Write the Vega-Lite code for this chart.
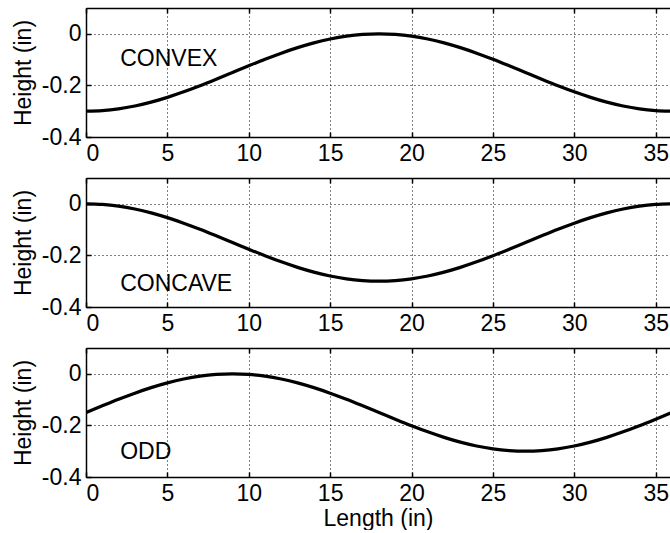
{
"$schema": "https://vega.github.io/schema/vega-lite/v6.json",
"padding": {"left": 12, "top": 7, "right": 0, "bottom": 0},
"bounds": "flush",
"spacing": 41,
"config": {"view": {"stroke": null}, "font": "Liberation Sans",
  "axis": {"domainColor": "black", "domainWidth": 1.5, "tickColor": "black", "tickWidth": 1.5, "gridColor": "black", "gridOpacity": 1, "gridDash": [1, 3], "gridWidth": 1, "labelFont": "Liberation Sans", "labelFontSize": 23, "labelColor": "black", "titleFont": "Liberation Sans", "titleFontSize": 23, "titleFontWeight": "normal", "titleColor": "black"}},
"datasets": {
 "curves": [
  {"x":0,"convex":-0.3,"concave":0,"odd":-0.15},
  {"x":1,"convex":-0.2977,"concave":-0.0023,"odd":-0.124},
  {"x":2,"convex":-0.291,"concave":-0.009,"odd":-0.0987},
  {"x":3,"convex":-0.2799,"concave":-0.0201,"odd":-0.075},
  {"x":4,"convex":-0.2649,"concave":-0.0351,"odd":-0.0536},
  {"x":5,"convex":-0.2464,"concave":-0.0536,"odd":-0.0351},
  {"x":6,"convex":-0.225,"concave":-0.075,"odd":-0.0201},
  {"x":7,"convex":-0.2013,"concave":-0.0987,"odd":-0.009},
  {"x":8,"convex":-0.176,"concave":-0.124,"odd":-0.0023},
  {"x":9,"convex":-0.15,"concave":-0.15,"odd":0},
  {"x":10,"convex":-0.124,"concave":-0.176,"odd":-0.0023},
  {"x":11,"convex":-0.0987,"concave":-0.2013,"odd":-0.009},
  {"x":12,"convex":-0.075,"concave":-0.225,"odd":-0.0201},
  {"x":13,"convex":-0.0536,"concave":-0.2464,"odd":-0.0351},
  {"x":14,"convex":-0.0351,"concave":-0.2649,"odd":-0.0536},
  {"x":15,"convex":-0.0201,"concave":-0.2799,"odd":-0.075},
  {"x":16,"convex":-0.009,"concave":-0.291,"odd":-0.0987},
  {"x":17,"convex":-0.0023,"concave":-0.2977,"odd":-0.124},
  {"x":18,"convex":0,"concave":-0.3,"odd":-0.15},
  {"x":19,"convex":-0.0023,"concave":-0.2977,"odd":-0.176},
  {"x":20,"convex":-0.009,"concave":-0.291,"odd":-0.2013},
  {"x":21,"convex":-0.0201,"concave":-0.2799,"odd":-0.225},
  {"x":22,"convex":-0.0351,"concave":-0.2649,"odd":-0.2464},
  {"x":23,"convex":-0.0536,"concave":-0.2464,"odd":-0.2649},
  {"x":24,"convex":-0.075,"concave":-0.225,"odd":-0.2799},
  {"x":25,"convex":-0.0987,"concave":-0.2013,"odd":-0.291},
  {"x":26,"convex":-0.124,"concave":-0.176,"odd":-0.2977},
  {"x":27,"convex":-0.15,"concave":-0.15,"odd":-0.3},
  {"x":28,"convex":-0.176,"concave":-0.124,"odd":-0.2977},
  {"x":29,"convex":-0.2013,"concave":-0.0987,"odd":-0.291},
  {"x":30,"convex":-0.225,"concave":-0.075,"odd":-0.2799},
  {"x":31,"convex":-0.2464,"concave":-0.0536,"odd":-0.2649},
  {"x":32,"convex":-0.2649,"concave":-0.0351,"odd":-0.2464},
  {"x":33,"convex":-0.2799,"concave":-0.0201,"odd":-0.225},
  {"x":34,"convex":-0.291,"concave":-0.009,"odd":-0.2013},
  {"x":35,"convex":-0.2977,"concave":-0.0023,"odd":-0.176},
  {"x":36,"convex":-0.3,"concave":0,"odd":-0.15}
 ],
 "labels": [
  {"panel":"convex","x":2.1,"y":-0.098,"label":"CONVEX"},
  {"panel":"concave","x":2.1,"y":-0.312,"label":"CONCAVE"},
  {"panel":"odd","x":2.1,"y":-0.305,"label":"ODD"}
 ]
},
"vconcat": [
 {"width": 584, "height": 129,
  "layer": [
   {"data": {"name": "curves"},
    "mark": {"type": "line", "color": "black", "strokeWidth": 3.2, "clip": true, "interpolate": "monotone"},
    "encoding": {
     "x": {"field": "x", "type": "quantitative", "scale": {"domain": [0, 35.88], "nice": false, "zero": false},
       "axis": {"orient": "bottom", "values": [0,5,10,15,20,25,30,35], "grid": true, "tickSize": -5, "labelPadding": 10, "title": null}},
     "y": {"field": "convex", "type": "quantitative", "scale": {"domain": [-0.4, 0.1], "nice": false, "zero": false},
       "axis": {"values": [-0.4,-0.2,0], "grid": true, "tickSize": -5, "labelPadding": 10, "labelExpr": "'' + datum.value", "title": "Height (in)", "titleX": -56, "titleY": 64.5, "titleBaseline": "alphabetic", "titleAngle": -90}}
    }},
   {"data": {"name": "labels"}, "transform": [{"filter": "datum.panel === 'convex'"}],
    "mark": {"type": "text", "align": "left", "baseline": "middle", "fontSize": 23, "color": "black", "font": "Liberation Sans"},
    "encoding": {
     "x": {"field": "x", "type": "quantitative", "axis": {"orient": "top", "labels": false, "grid": false, "tickSize": -5, "title": null, "values": [0,5,10,15,20,25,30,35]}},
     "y": {"field": "y", "type": "quantitative",
       "axis": {"values": [-0.4,-0.2,0], "grid": true, "tickSize": -5, "labelPadding": 10, "labelExpr": "'' + datum.value", "title": "Height (in)", "titleX": -56, "titleY": 64.5, "titleBaseline": "alphabetic", "titleAngle": -90}},
     "text": {"field": "label"}
    }}
  ]},
 {"width": 584, "height": 129,
  "layer": [
   {"data": {"name": "curves"},
    "mark": {"type": "line", "color": "black", "strokeWidth": 3.2, "clip": true, "interpolate": "monotone"},
    "encoding": {
     "x": {"field": "x", "type": "quantitative", "scale": {"domain": [0, 35.88], "nice": false, "zero": false},
       "axis": {"orient": "bottom", "values": [0,5,10,15,20,25,30,35], "grid": true, "tickSize": -5, "labelPadding": 10, "title": null}},
     "y": {"field": "concave", "type": "quantitative", "scale": {"domain": [-0.4, 0.1], "nice": false, "zero": false},
       "axis": {"values": [-0.4,-0.2,0], "grid": true, "tickSize": -5, "labelPadding": 10, "labelExpr": "'' + datum.value", "title": "Height (in)", "titleX": -56, "titleY": 64.5, "titleBaseline": "alphabetic", "titleAngle": -90}}
    }},
   {"data": {"name": "labels"}, "transform": [{"filter": "datum.panel === 'concave'"}],
    "mark": {"type": "text", "align": "left", "baseline": "middle", "fontSize": 23, "color": "black", "font": "Liberation Sans"},
    "encoding": {
     "x": {"field": "x", "type": "quantitative", "axis": {"orient": "top", "labels": false, "grid": false, "tickSize": -5, "title": null, "values": [0,5,10,15,20,25,30,35]}},
     "y": {"field": "y", "type": "quantitative",
       "axis": {"values": [-0.4,-0.2,0], "grid": true, "tickSize": -5, "labelPadding": 10, "labelExpr": "'' + datum.value", "title": "Height (in)", "titleX": -56, "titleY": 64.5, "titleBaseline": "alphabetic", "titleAngle": -90}},
     "text": {"field": "label"}
    }}
  ]},
 {"width": 584, "height": 129,
  "layer": [
   {"data": {"name": "curves"},
    "mark": {"type": "line", "color": "black", "strokeWidth": 3.2, "clip": true, "interpolate": "monotone"},
    "encoding": {
     "x": {"field": "x", "type": "quantitative", "scale": {"domain": [0, 35.88], "nice": false, "zero": false},
       "axis": {"orient": "bottom", "values": [0,5,10,15,20,25,30,35], "grid": true, "tickSize": -5, "labelPadding": 10, "title": "Length (in)", "titlePadding": 2}},
     "y": {"field": "odd", "type": "quantitative", "scale": {"domain": [-0.4, 0.1], "nice": false, "zero": false},
       "axis": {"values": [-0.4,-0.2,0], "grid": true, "tickSize": -5, "labelPadding": 10, "labelExpr": "'' + datum.value", "title": "Height (in)", "titleX": -56, "titleY": 64.5, "titleBaseline": "alphabetic", "titleAngle": -90}}
    }},
   {"data": {"name": "labels"}, "transform": [{"filter": "datum.panel === 'odd'"}],
    "mark": {"type": "text", "align": "left", "baseline": "middle", "fontSize": 23, "color": "black", "font": "Liberation Sans"},
    "encoding": {
     "x": {"field": "x", "type": "quantitative", "axis": {"orient": "top", "labels": false, "grid": false, "tickSize": -5, "title": null, "values": [0,5,10,15,20,25,30,35]}},
     "y": {"field": "y", "type": "quantitative",
       "axis": {"values": [-0.4,-0.2,0], "grid": true, "tickSize": -5, "labelPadding": 10, "labelExpr": "'' + datum.value", "title": "Height (in)", "titleX": -56, "titleY": 64.5, "titleBaseline": "alphabetic", "titleAngle": -90}},
     "text": {"field": "label"}
    }}
  ]}
]
}
